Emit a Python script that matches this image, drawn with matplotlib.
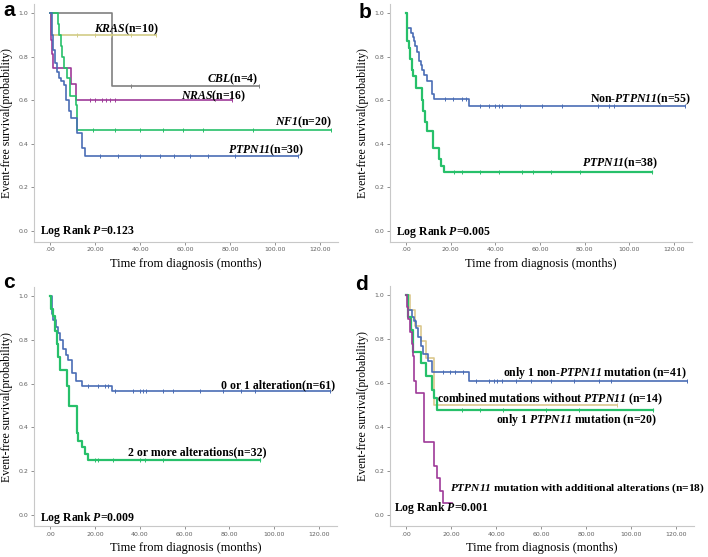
import matplotlib
matplotlib.use("Agg")
import matplotlib.pyplot as plt

plt.rcParams['font.family'] = ['Liberation Serif', 'DejaVu Serif']
plt.rcParams['mathtext.fontset'] = 'custom'
# everything inside $...$ is a bold-italic gene name or P
plt.rcParams['mathtext.it'] = 'Liberation Serif:italic:bold'
plt.rcParams['mathtext.rm'] = 'Liberation Serif:italic:bold'

BLUE = '#4a6db5'
GREEN = '#27c06a'
PURPLE = '#9e3a98'
GRAY = '#808080'
KHAKI = '#d2cc86'
TAN = '#dcc88e'

# ---- panel a: by mutated gene ----
kras_t = [0, 0.5]
kras_s = [1.0, 0.9]
kras_end = 47
kras_cens = [12, 20, 27, 36, 47]

cbl_t = [0, 27.7]
cbl_s = [1.0, 0.667]
cbl_end = 93
cbl_cens = [36, 93]

nras_t = [0, 0.3, 0.6, 1.0, 1.5, 9.3, 11.6]
nras_s = [1.0, 0.9375, 0.875, 0.8125, 0.75, 0.675, 0.6]
nras_end = 81
nras_cens = [17.8, 20, 23, 25, 26.7, 29, 81]

nf1_t = [0, 3.6, 4.2, 4.9, 5.5, 6.0, 7.5, 9.0, 11.6, 12.2]
nf1_s = [1.0, 0.95, 0.9, 0.85, 0.8, 0.75, 0.7, 0.62, 0.58, 0.464]
nf1_end = 125
nf1_cens = [19, 29, 40, 50, 59, 68, 90, 125]

ptpn_a_t = [0, 0.8, 1.5, 2.0, 3.0, 3.8, 5.0, 6.0, 7.0, 8.5, 9.5, 12.0, 14.0, 15.6]
ptpn_a_s = [1.0, 0.9, 0.83, 0.77, 0.73, 0.70, 0.69, 0.67, 0.60, 0.55, 0.52, 0.45, 0.38, 0.345]
ptpn_a_end = 110
ptpn_a_cens = [22, 30, 40, 49, 55, 62, 70, 82, 110]

# ---- panel b: PTPN11 vs non-PTPN11 ----
non_b_t = [0, 0.6, 2.1, 3.0, 3.6, 4.2, 5.0, 5.8, 6.5, 7.2, 8.1, 9.2, 11.7, 12.5, 28.2]
non_b_s = [1.0, 0.93, 0.91, 0.89, 0.87, 0.85, 0.82, 0.78, 0.76, 0.74, 0.715, 0.69, 0.63, 0.605, 0.575]
non_b_end = 125
non_b_cens = [17.5, 21, 25, 27, 33, 37, 40, 41.5, 43, 51, 61, 70, 86, 91, 93, 125]

ptpn_b_t = [0, 0.6, 1.2, 1.8, 2.5, 3.3, 4.3, 7.2, 7.8, 8.4, 9.6, 12.0, 14.7, 15.8, 17.2]
ptpn_b_s = [1.0, 0.87, 0.84, 0.79, 0.74, 0.71, 0.655, 0.6, 0.55, 0.5, 0.46, 0.38, 0.33, 0.30, 0.27]
ptpn_b_end = 110
ptpn_b_cens = [21.5, 25, 33, 41.5, 52, 57, 65, 78, 110]

# ---- panel c: number of alterations ----
one_c_t = [0, 0.8, 1.5, 2.5, 3.5, 4.5, 5.9, 7.0, 8.2, 9.7, 11.6, 14.1, 27.5]
one_c_s = [1.0, 0.92, 0.89, 0.86, 0.83, 0.80, 0.76, 0.73, 0.71, 0.65, 0.61, 0.59, 0.565]
one_c_end = 125
one_c_cens = [17, 21.4, 24.5, 26, 29, 37, 40, 41.5, 43, 50.5, 55, 67, 77, 85, 91.5, 125]

two_c_t = [0, 0.3, 1.2, 2.2, 3.0, 3.7, 4.5, 7.4, 8.5, 11.9, 12.6, 14.1, 15.6, 16.8]
two_c_s = [1.0, 0.94, 0.91, 0.84, 0.78, 0.72, 0.66, 0.59, 0.50, 0.375, 0.34, 0.31, 0.28, 0.25]
two_c_end = 93.5
two_c_cens = [20, 21.5, 28, 40, 42.5, 50.5, 93.5]

# ---- panel d: mutation groups ----
non_d_t = [0, 1.0, 2.5, 3.6, 4.5, 5.5, 6.5, 7.7, 9.6, 11.7, 28.1]
non_d_s = [1.0, 0.93, 0.9, 0.88, 0.85, 0.81, 0.77, 0.73, 0.70, 0.65, 0.61]
non_d_end = 125
non_d_cens = [4, 16.6, 19.6, 21.8, 25.5, 31, 37, 39, 40.5, 42.7, 49, 55.5, 64.4, 74.7, 85.8, 91, 125]

comb_d_t = [0, 1.8, 4.0, 6.5, 8.7, 12.4]
comb_d_s = [1.0, 0.93, 0.86, 0.79, 0.714, 0.5]
comb_d_end = 94
comb_d_cens = [94]

one_d_t = [0, 1.0, 2.3, 3.3, 6.5, 8.7, 11.7, 12.4, 13.9]
one_d_s = [1.0, 0.9, 0.84, 0.74, 0.69, 0.63, 0.57, 0.53, 0.476]
one_d_end = 110
one_d_cens = [25, 33, 43, 62, 77, 110]

add_d_t = [0, 0.4, 0.8, 1.8, 2.5, 2.9, 3.4, 4.3, 8.2, 12.4, 13.9, 15.1, 16.6]
add_d_s = [1.0, 0.944, 0.889, 0.833, 0.778, 0.722, 0.611, 0.556, 0.333, 0.222, 0.167, 0.111, 0.056]
add_d_end = 20.6
add_d_cens = []

xticks = [0, 20, 40, 60, 80, 100, 120]
xticklabels = ['.00', '20.00', '40.00', '60.00', '80.00', '100.00', '120.00']
yticks = [0.0, 0.2, 0.4, 0.6, 0.8, 1.0]
yticklabels = ['0.0', '0.2', '0.4', '0.6', '0.8', '1.0']

W, H = 708, 557
XLIM = (-7.3, 128)
YLIM = (-0.05, 1.04)

fig = plt.figure(figsize=(W / 100, H / 100), dpi=100)


def make_axes(x0, sx, y0, sy):
    # build an axes so that month 0 / survival 0 land on the given pixels
    left = x0 + XLIM[0] * sx
    right = x0 + XLIM[1] * sx
    top = y0 - YLIM[1] * sy
    bottom = y0 - YLIM[0] * sy
    ax = fig.add_axes([left / W, 1 - bottom / H, (right - left) / W, (bottom - top) / H])
    ax.set_xlim(*XLIM)
    ax.set_ylim(*YLIM)
    for side in ['top', 'right']:
        ax.spines[side].set_visible(False)
    for side in ['left', 'bottom']:
        ax.spines[side].set_color('#c8c8c8')
        ax.spines[side].set_linewidth(0.8)
    ax.set_xticks(xticks)
    ax.set_xticklabels(xticklabels, fontfamily='DejaVu Sans', fontsize=4.5, color='#606060')
    ax.set_yticks(yticks)
    ax.set_yticklabels(yticklabels, fontfamily='DejaVu Sans', fontsize=4.5, color='#606060')
    ax.tick_params(length=2.5, width=0.6, color='#808080', pad=1.5)
    ax.set_xlabel('Time from diagnosis (months)', fontsize=9, labelpad=4)
    ax.set_ylabel('Event-free survival(probability)', fontsize=8.5, labelpad=4)
    return ax


def km(ax, t, s, end, cens, color, lw=1.2):
    ax.step(list(t) + [end], list(s) + [s[-1]], where='post', color=color, lw=lw)
    if cens:
        cy = []
        for c in cens:
            v = s[0]
            for ti, si in zip(t, s):
                if ti <= c:
                    v = si
            cy.append(v)
        ax.plot(cens, cy, ls='none', marker='|', ms=3.5, mew=0.7, color=color)


def note(ax, x, y, txt, ha='left', size=8.5):
    ax.text(x, y, txt, ha=ha, va='center', fontsize=size, fontweight='bold', clip_on=False)


# panel a
ax = make_axes(50, 2.25, 231, 218)
km(ax, cbl_t, cbl_s, cbl_end, cbl_cens, GRAY)
km(ax, kras_t, kras_s, kras_end, kras_cens, KHAKI)
km(ax, nras_t, nras_s, nras_end, nras_cens, PURPLE)
km(ax, nf1_t, nf1_s, nf1_end, nf1_cens, GREEN)
km(ax, ptpn_a_t, ptpn_a_s, ptpn_a_end, ptpn_a_cens, BLUE)
note(ax, 19.6, 0.927, r'$\mathrm{KRAS}$(n=10)')
note(ax, 92.6, 0.697, r'$\mathrm{CBL}$(n=4)', ha='right')
note(ax, 87, 0.62, r'$\mathrm{NRAS}$(n=16)', ha='right')
note(ax, 125, 0.50, r'$\mathrm{NF1}$(n=20)', ha='right')
note(ax, 113, 0.37, r'$\mathrm{PTPN11}$(n=30)', ha='right')
note(ax, -4.4, 0.0, r'Log Rank $\mathrm{P}$=0.123')

# panel b
ax = make_axes(406, 2.233, 231, 218)
km(ax, non_b_t, non_b_s, non_b_end, non_b_cens, BLUE)
km(ax, ptpn_b_t, ptpn_b_s, ptpn_b_end, ptpn_b_cens, GREEN, lw=1.6)
note(ax, 127.6, 0.605, r'Non-$\mathrm{PTPN11}$(n=55)', ha='right')
note(ax, 113, 0.31, r'$\mathrm{PTPN11}$(n=38)', ha='right')
note(ax, -4.5, -0.006, r'Log Rank $\mathrm{P}$=0.005')

# panel c
ax = make_axes(50, 2.242, 515, 219)
km(ax, one_c_t, one_c_s, one_c_end, one_c_cens, BLUE)
km(ax, two_c_t, two_c_s, two_c_end, two_c_cens, GREEN, lw=1.6)
note(ax, 127, 0.594, '0 or 1 alteration(n=61)', ha='right')
note(ax, 96.7, 0.288, '2 or more alterations(n=32)', ha='right')
note(ax, -4.5, -0.012, r'Log Rank $\mathrm{P}$=0.009')

# panel d
ax = make_axes(406, 2.25, 515, 220)
km(ax, comb_d_t, comb_d_s, comb_d_end, comb_d_cens, TAN)
km(ax, non_d_t, non_d_s, non_d_end, non_d_cens, BLUE)
km(ax, one_d_t, one_d_s, one_d_end, one_d_cens, GREEN, lw=1.6)
km(ax, add_d_t, add_d_s, add_d_end, add_d_cens, PURPLE)
note(ax, 125, 0.645, r'only 1 non-$\mathrm{PTPN11}$ mutation (n=41)', ha='right')
note(ax, 13.7, 0.527, r'combined mutations without $\mathrm{PTPN11}$ (n=14)')
note(ax, 111.7, 0.43, r'only 1 $\mathrm{PTPN11}$ mutation (n=20)', ha='right')
note(ax, 19.5, 0.123, r'$\mathrm{PTPN11}$ mutation with additional alterations (n=18)', size=8.2)
note(ax, -5.3, 0.03, r'Log Rank $\mathrm{P}$=0.001')

# panel letters
for lx, ly, letter in [(9, 10, 'a'), (365, 12, 'b'), (9, 283, 'c'), (361, 284, 'd')]:
    fig.text(lx / W, 1 - ly / H, letter, fontfamily='Liberation Sans', fontweight='bold',
             fontsize=15, ha='center', va='center')

fig.savefig('out.png', dpi=100)
